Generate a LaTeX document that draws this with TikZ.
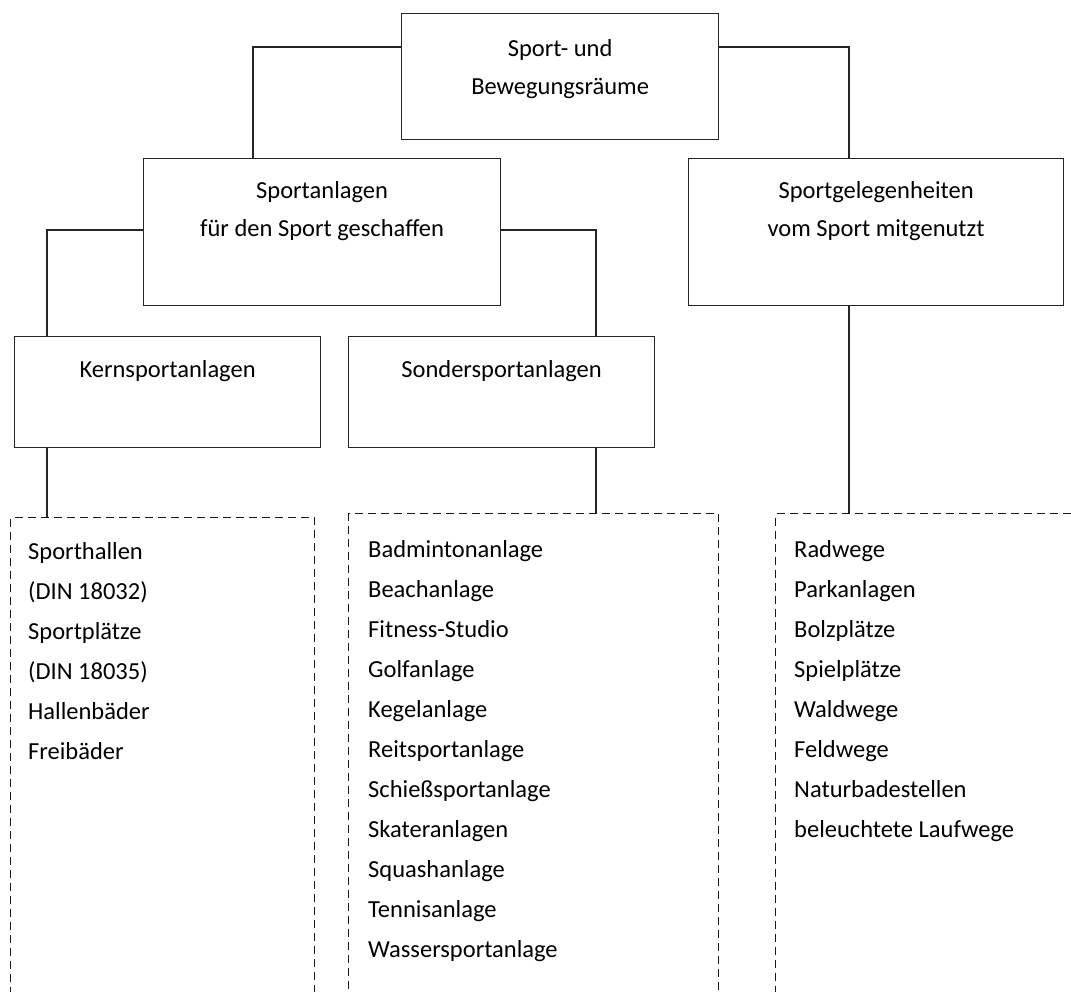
\documentclass[tikz,border=0pt]{standalone}
\usepackage{fontspec}
\setmainfont{Carlito}
\usepackage{tikz}
\usetikzlibrary{positioning}

\begin{document}
\begin{tikzpicture}[x=1pt, y=-1pt]
                \tikzstyle{box} = [rectangle, anchor=north west, inner sep=0pt, draw=black!85, line width=1.2pt]
                \tikzstyle{listbox} = [rectangle, anchor=north west, inner sep=0pt, draw=black!90, line width=1.4pt, dash pattern=on 8pt off 5pt]
                \tikzstyle{boxtext} = [anchor=base, align=center, inner sep=0pt, font=\fontsize{24.5pt}{37.5pt}\selectfont]
                \tikzstyle{listtext} = [anchor=base west, align=left, inner sep=0pt, font=\fontsize{24.5pt}{40pt}\selectfont]
                \tikzstyle{line} = [draw=black!85, line width=1.2pt]

                \useasboundingbox (0,0) rectangle (1071,991);
                \clip (0,0) rectangle (1071,991);

                \node (root) [box, minimum width=317pt, minimum height=126pt] at (401,13) {};
                \node (anl) [box, minimum width=357pt, minimum height=147pt] at (143,158) {};
                \node (gel) [box, minimum width=375pt, minimum height=147pt] at (688,158) {};
                \node (kern) [box, minimum width=306pt, minimum height=111pt] at (14,336) {};
                \node (sonder) [box, minimum width=306pt, minimum height=111pt] at (348,336) {};
                \node (list1) [listbox, minimum width=304pt, minimum height=600pt] at (10,517) {};
                \node (list2) [listbox, minimum width=370pt, minimum height=600pt] at (348,513) {};
                \node (list3) [listbox, minimum width=400pt, minimum height=600pt] at (775,513) {};

                \node (rootlbl) [boxtext] at ([yshift=-81pt]root.north) {Sport- und\\Bewegungsräume};
                \node (anllbl) [boxtext] at ([yshift=-78pt]anl.north) {Sportanlagen\\für den Sport geschaffen};
                \node (gellbl) [boxtext] at ([yshift=-78pt]gel.north) {Sportgelegenheiten\\vom Sport mitgenutzt};
                \node (kernlbl) [boxtext] at ([yshift=-41pt]kern.north) {Kernsportanlagen};
                \node (sonderlbl) [boxtext] at ([yshift=-41pt]sonder.north) {Sondersportanlagen};

                \node (list1txt) [listtext] at ([xshift=18pt, yshift=-242pt]list1.north west) {Sporthallen\\(DIN 18032)\\Sportplätze\\(DIN 18035)\\Hallenbäder\\Freibäder};
                \node (list2txt) [listtext] at ([xshift=20pt, yshift=-444pt]list2.north west) {Badmintonanlage\\Beachanlage\\Fitness-Studio\\Golfanlage\\Kegelanlage\\Reitsportanlage\\Schießsportanlage\\Skateranlagen\\Squashanlage\\Tennisanlage\\Wassersportanlage};
                \node (list3txt) [listtext] at ([xshift=19pt, yshift=-324pt]list3.north west) {Radwege\\Parkanlagen\\Bolzplätze\\Spielplätze\\Waldwege\\Feldwege\\Naturbadestellen\\beleuchtete Laufwege};

                \draw [line] ([yshift=-34pt]root.north west) -| ([xshift=110pt]anl.north west);
                \draw [line] ([yshift=-34pt]root.north east) -| ([xshift=161pt]gel.north west);
                \draw [line] ([yshift=-72pt]anl.north west) -| ([xshift=33pt]kern.north west);
                \draw [line] ([yshift=-72pt]anl.north east) -| ([xshift=248pt]sonder.north west);
                \draw [line] ([xshift=33pt]kern.south west) -- ([xshift=33pt]kern.south west |- list1.north);
                \draw [line] ([xshift=248pt]sonder.south west) -- ([xshift=248pt]sonder.south west |- list2.north);
                \draw [line] ([xshift=161pt]gel.south west) -- ([xshift=161pt]gel.south west |- list3.north);
            \end{tikzpicture}
\end{document}
